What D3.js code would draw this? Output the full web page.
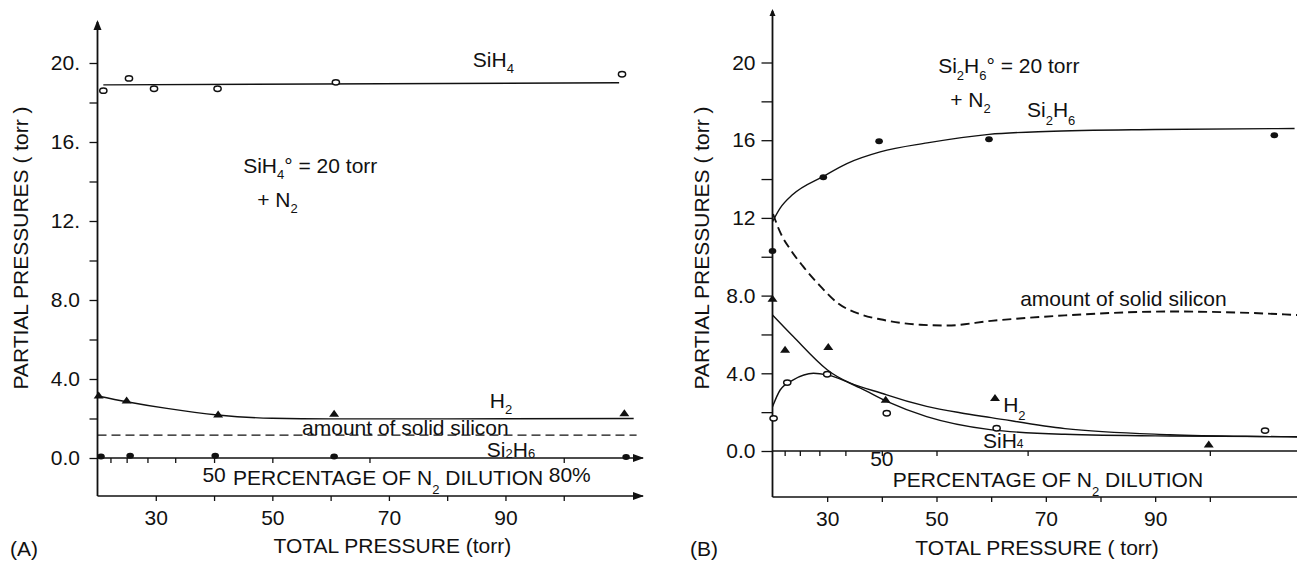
<!DOCTYPE html>
<html>
<head>
<meta charset="utf-8">
<script src="https://cdn.jsdelivr.net/npm/d3@7"></script>
<style>
  html, body { margin: 0; padding: 0; background: #fff; }
  svg { display: block; }
  text { font-family: "Liberation Sans", Arial, Helvetica, sans-serif; fill: #111; }
</style>
</head>
<body>
<svg id="chart" width="1297" height="564"></svg>
<script>
// Initial reactant pressure (torr); the N2 dilution scale follows from it.
const P0 = 20;

// ---------- (A) SiH4 + N2 ----------
const aSiH4P    = [21, 25.4, 29.7, 40.6, 60.9, 110];
const aSiH4     = [18.6, 19.22, 18.7, 18.7, 19.02, 19.43];
const aSiH4FitP = [21, 109.5];
const aSiH4Fit  = [18.89, 19.0];
const aH2P      = [20.2, 25, 40.7, 60.6, 110.4];
const aH2       = [3.19, 2.94, 2.23, 2.26, 2.29];
const aH2FitP   = [20, 25, 31.9, 40.6, 50, 60, 80, 112];
const aH2Fit    = [3.14, 2.85, 2.51, 2.18, 2.01, 1.98, 1.98, 2.0];
const aSi2H6P   = [20.6, 25.6, 40.2, 60.6, 110.7];
const aSi2H6    = [0.07, 0.12, 0.12, 0.08, 0.05];
const aSolidP   = [20, 112.5];
const aSolid    = [1.16, 1.16];

// ---------- (B) Si2H6 + N2 ----------
const bSi2H6P    = [20, 29.3, 39.5, 59.6, 111.8];
const bSi2H6     = [10.3, 14.09, 15.94, 16.05, 16.25];
const bSi2H6FitP = [20, 21.4, 23.7, 29.3, 33.6, 39.7, 48.3, 59.6, 70, 90, 115.5];
const bSi2H6Fit  = [11.8, 12.5, 13.2, 14.14, 14.8, 15.4, 15.86, 16.3, 16.45, 16.55, 16.6];
const bH2P       = [20, 22.3, 30.2, 40.7, 60.7, 99.8];
const bH2        = [7.87, 5.24, 5.38, 2.66, 2.75, 0.36];
const bH2FitP    = [20, 23.8, 30, 40.9, 48.2, 54.3, 60, 73.5, 92.7, 111, 116];
const bH2Fit     = [7.0, 5.89, 4.18, 2.89, 2.3, 1.97, 1.72, 1.15, 0.84, 0.74, 0.72];
const bSiH4P     = [20.2, 22.7, 30, 40.9, 61, 110.1];
const bSiH4      = [1.68, 3.52, 3.95, 1.94, 1.17, 1.05];
const bSiH4FitP  = [20, 21.4, 23.8, 27.5, 30, 36, 40.9, 48.2, 59.8, 73.5, 92.7, 113, 116];
const bSiH4Fit   = [2.28, 3.14, 3.66, 4.0, 3.92, 3.25, 2.55, 1.77, 1.1, 0.86, 0.77, 0.74, 0.74];
const bSolidP    = [20.1, 21.5, 23.2, 25.6, 28.7, 32, 36, 39.7, 43.3, 47, 52, 60, 73.5, 92.7, 105, 116];
const bSolid     = [12.2, 11.2, 10.4, 9.5, 8.5, 7.6, 7.05, 6.78, 6.6, 6.5, 6.46, 6.7, 6.98, 7.18, 7.13, 7.0];

// ---------- axes ----------
const yTickValues   = [0, 2, 4, 6, 8, 10, 12, 14, 16, 18, 20];
const yLabelValues  = [0, 4, 8, 12, 16, 20];
const yLabelsA      = ["0.0", "4.0", "8.0", "12.", "16.", "20."];
const yLabelsB      = ["0.0", "4.0", "8.0", "12", "16", "20"];
const pressureTicks = [30, 40, 50, 60, 70, 80, 90, 100];
const pressureLabels = ["30", "", "50", "", "70", "", "90", ""];
const dilutionTicks = [10, 20, 30, 40, 50, 60, 70, 80];   // percent N2

const FS = 21;        // main text size
const SUB = 13;       // subscript size
const INK = "#111";

const svg = d3.select("#chart");

// text made of runs; a run may be lowered (subscript) and smaller
function richText(g, x, y, runs, attrs = {}) {
  const t = g.append("text").attr("x", x).attr("y", y).attr("font-size", FS);
  Object.entries(attrs).forEach(([k, v]) => t.attr(k, v));
  let off = 0;
  runs.forEach(r => {
    const want = r.dy || 0;
    const s = t.append("tspan").text(r.t).attr("dy", want - off);
    if (r.size) s.attr("font-size", r.size);
    off = want;
  });
  return t;
}

const line = (x, y, curve) => d3.line()
  .x(d => x(d[0])).y(d => y(d[1]))
  .curve(curve || d3.curveMonotoneX);

function drawPanel(cfg) {
  const g = svg.append("g");
  const x = d3.scaleLinear().domain(cfg.xDomain).range(cfg.xRange);
  const y = d3.scaleLinear().domain([0, 20]).range(cfg.yRange);
  const x0 = x(P0), y0 = y(0);
  const xEnd = cfg.xRange[1];

  // vertical axis line with arrowhead on top
  g.append("line").attr("x1", x0).attr("x2", x0)
    .attr("y1", cfg.axisTop).attr("y2", cfg.base)
    .attr("stroke", INK).attr("stroke-width", 1.8);
  g.append("path")
    .attr("d", `M${x0 - cfg.arrowW},${cfg.axisTop + cfg.arrowH}L${x0},${cfg.axisTop - 2}L${x0 + cfg.arrowW},${cfg.axisTop + cfg.arrowH}Z`)
    .attr("fill", INK);

  // y ticks
  const yAxis = d3.axisLeft(y).tickValues(yTickValues)
    .tickSize(cfg.tickY).tickPadding(cfg.padY)
    .tickFormat(d => { const i = yLabelValues.indexOf(d); return i < 0 ? "" : cfg.yLabels[i]; });
  g.append("g").attr("transform", `translate(${x0},0)`).call(yAxis)
    .call(a => a.select(".domain").remove())
    .call(a => a.selectAll("line").attr("stroke", INK).attr("stroke-width", 1.3))
    .call(a => a.selectAll("text").attr("font-size", FS).attr("font-family", null).attr("fill", INK));

  // zero line carrying the N2 dilution scale
  g.append("line").attr("x1", x0).attr("x2", xEnd).attr("y1", y0).attr("y2", y0)
    .attr("stroke", INK).attr("stroke-width", 1.6);
  const dil = d3.axisBottom(x).tickValues(dilutionTicks.map(f => P0 / (1 - f / 100)))
    .tickSize(5).tickFormat("");
  g.append("g").attr("transform", `translate(0,${y0})`).call(dil)
    .call(a => a.select(".domain").remove())
    .call(a => a.selectAll("line").attr("stroke", INK).attr("stroke-width", 1.3));

  // total pressure axis at the bottom
  g.append("line").attr("x1", x0).attr("x2", xEnd).attr("y1", cfg.base).attr("y2", cfg.base)
    .attr("stroke", INK).attr("stroke-width", 1.6);
  const px = d3.axisBottom(x).tickValues(pressureTicks).tickSize(5).tickPadding(9)
    .tickFormat((d, i) => pressureLabels[i]);
  g.append("g").attr("transform", `translate(0,${cfg.base})`).call(px)
    .call(a => a.select(".domain").remove())
    .call(a => a.selectAll("line").attr("stroke", INK).attr("stroke-width", 1.3))
    .call(a => a.selectAll("text").attr("font-size", FS).attr("font-family", null).attr("fill", INK));

  if (cfg.arrowRight) {
    [y0, cfg.base].forEach(yy => {
      g.append("path")
        .attr("d", `M${xEnd - 10},${yy - 4}L${xEnd + 1},${yy}L${xEnd - 10},${yy + 4}Z`)
        .attr("fill", INK);
    });
  }

  // axis titles
  g.append("text").attr("transform", `translate(${cfg.yTitleX},248) rotate(-90)`)
    .attr("text-anchor", "middle").attr("font-size", FS)
    .text("PARTIAL PRESSURES ( torr )");
  g.append("text").attr("x", x(cfg.xTitleP)).attr("y", cfg.xTitleY)
    .attr("text-anchor", "middle").attr("font-size", FS)
    .text(cfg.xTitle);
  g.append("text").attr("x", cfg.tagX).attr("y", 556).attr("font-size", FS).text(cfg.tag);

  // dilution scale labels
  g.append("text").attr("x", x(P0 / (1 - 0.5))).attr("y", y0 + cfg.pct50dy)
    .attr("text-anchor", "middle").attr("font-size", FS).text("50");
  richText(g, x(P0 / (1 - 0.5)) + cfg.pctTextDx, y0 + cfg.pctTextDy, [
    { t: "PERCENTAGE OF N" }, { t: "2", size: SUB, dy: 9 }, { t: " DILUTION" }
  ]);
  if (cfg.pct80) {
    g.append("text").attr("x", x(P0 / (1 - 0.8)) - 15).attr("y", y0 + 24)
      .attr("font-size", FS).text("80%");
  }

  return { g, x, y };
}

function solid(p, x, y, P, V, w) {
  p.g.append("path").datum(d3.zip(P, V)).attr("d", line(x, y))
    .attr("fill", "none").attr("stroke", INK).attr("stroke-width", w || 1.4);
}
function dashed(p, x, y, P, V, w) {
  p.g.append("path").datum(d3.zip(P, V)).attr("d", line(x, y))
    .attr("fill", "none").attr("stroke", INK).attr("stroke-width", w || 1.4)
    .attr("stroke-dasharray", "9 5");
}
function openDots(p, P, V) {
  p.g.append("g").selectAll("ellipse").data(d3.zip(P, V)).join("ellipse")
    .attr("cx", d => p.x(d[0])).attr("cy", d => p.y(d[1]))
    .attr("rx", 3.6).attr("ry", 2.7)
    .attr("fill", "#fff").attr("stroke", INK).attr("stroke-width", 1.5);
}
function filledDots(p, P, V) {
  p.g.append("g").selectAll("ellipse").data(d3.zip(P, V)).join("ellipse")
    .attr("cx", d => p.x(d[0])).attr("cy", d => p.y(d[1]))
    .attr("rx", 3.8).attr("ry", 3.0).attr("fill", INK);
}
function triangles(p, P, V) {
  p.g.append("g").selectAll("path").data(d3.zip(P, V)).join("path")
    .attr("transform", d => `translate(${p.x(d[0])},${p.y(d[1])})`)
    .attr("d", "M-5,3.5L0,-3.5L5,3.5Z").attr("fill", INK);
}

// ---------------- panel A ----------------
const A = drawPanel({
  xDomain: [20, 113.6], xRange: [97.5, 643], yRange: [458, 63],
  axisTop: 22, base: 496, arrowW: 4, arrowH: 8, arrowRight: true,
  tickY: 8, padY: 9.5, yLabels: yLabelsA,
  yTitleX: 28, xTitle: "TOTAL PRESSURE (torr)", xTitleP: 70.6, xTitleY: 553,
  tag: "(A)", tagX: 10,
  pct50dy: 24, pctTextDx: 19, pctTextDy: 27, pct80: true
});
dashed(A, A.x, A.y, aSolidP, aSolid, 1.3);
solid(A, A.x, A.y, aSiH4FitP, aSiH4Fit);
solid(A, A.x, A.y, aH2FitP, aH2Fit);
openDots(A, aSiH4P, aSiH4);
triangles(A, aH2P, aH2);
filledDots(A, aSi2H6P, aSi2H6);

richText(A.g, A.x(84.4), A.y(19.8), [{ t: "SiH" }, { t: "4", size: SUB, dy: 6 }]);
richText(A.g, A.x(45.0), A.y(14.43), [
  { t: "SiH" }, { t: "4", size: SUB, dy: 6 }, { t: "°" }, { t: " = 20 torr" }
]);
richText(A.g, A.x(47.4), A.y(12.71), [{ t: "+ N" }, { t: "2", size: SUB, dy: 6 }]);
richText(A.g, A.x(87.3), A.y(2.53), [{ t: "H" }, { t: "2", size: SUB, dy: 6 }]);
A.g.append("text").attr("x", A.x(55.1)).attr("y", A.y(1.16)).attr("font-size", FS)
  .text("amount of solid silicon");
richText(A.g, A.x(86.8), A.y(0.05), [
  { t: "Si" }, { t: "2", size: SUB, dy: 1 }, { t: "H" }, { t: "6", size: SUB, dy: 1 }
]);

// ---------------- panel B ----------------
const B = drawPanel({
  xDomain: [20, 116], xRange: [772.5, 1297.3], yRange: [451, 62.5],
  axisTop: 11, base: 497, arrowW: 3, arrowH: 5, arrowRight: false,
  tickY: 11, padY: 6, yLabels: yLabelsB,
  yTitleX: 709, xTitle: "TOTAL PRESSURE ( torr)", xTitleP: 68.4, xTitleY: 555,
  tag: "(B)", tagX: 690,
  pct50dy: 15, pctTextDx: 11, pctTextDy: 36, pct80: false
});
dashed(B, B.x, B.y, bSolidP, bSolid, 1.9);
solid(B, B.x, B.y, bSi2H6FitP, bSi2H6Fit);
solid(B, B.x, B.y, bH2FitP, bH2Fit);
solid(B, B.x, B.y, bSiH4FitP, bSiH4Fit);
filledDots(B, bSi2H6P, bSi2H6);
triangles(B, bH2P, bH2);
openDots(B, bSiH4P, bSiH4);

richText(B.g, B.x(50.3), B.y(19.46), [
  { t: "Si" }, { t: "2", size: SUB, dy: 7 }, { t: "H" }, { t: "6", size: SUB, dy: 7 },
  { t: "°" }, { t: " = 20 torr" }
]);
richText(B.g, B.x(52.5), B.y(17.71), [{ t: "+ N" }, { t: "2", size: SUB, dy: 6 }]);
richText(B.g, B.x(66.55), B.y(17.19), [
  { t: "Si" }, { t: "2", size: SUB, dy: 8 }, { t: "H" }, { t: "6", size: SUB, dy: 8 }
]);
B.g.append("text").attr("x", B.x(65.3)).attr("y", B.y(7.46)).attr("font-size", FS)
  .text("amount of solid silicon");
richText(B.g, B.x(62.2), B.y(2.0), [{ t: "H" }, { t: "2", size: SUB, dy: 8 }]);
richText(B.g, B.x(58.5), B.y(0.15), [{ t: "SiH" }, { t: "4", size: 12, dy: 0 }]);
</script>
</body>
</html>
